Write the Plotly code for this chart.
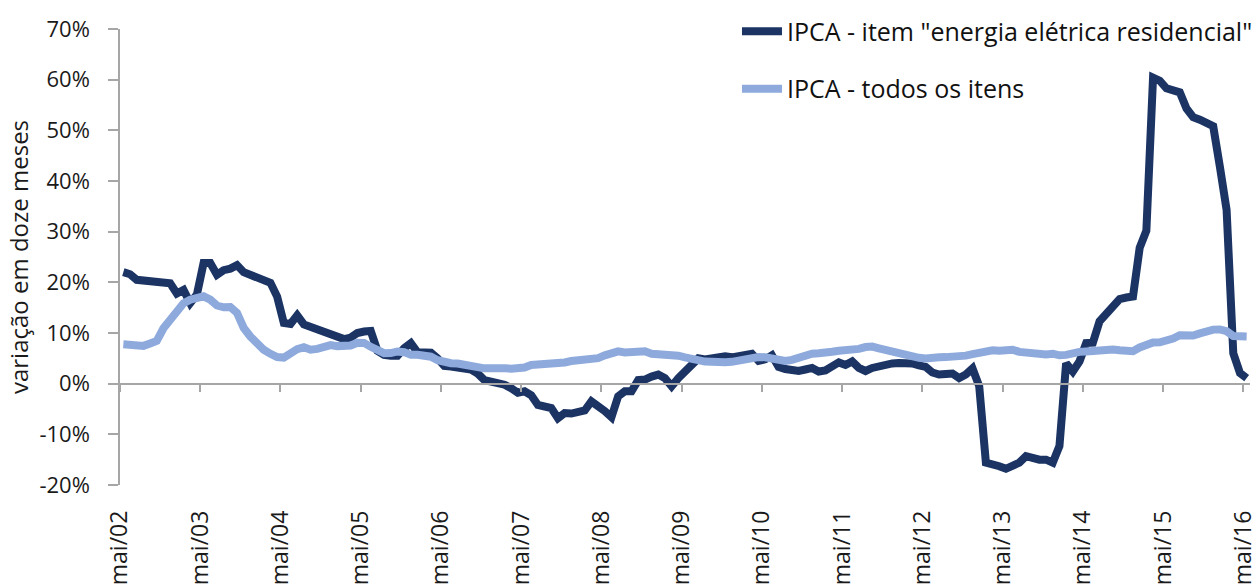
import plotly.graph_objects as go

# Monthly data, mai/2002 .. mai/2016 (169 months), 12-month change in %
energia = [
    22.0, 21.6, 20.5, 20.3, 20.2, 20.2, 20.1, 19.8,
    17.8, 18.5, 15.9, 17.6, 23.8, 23.8, 21.5, 22.4, 22.7, 23.4, 22.0, 21.4,
    20.9, 20.2, 19.9, 17.2, 12.0, 11.8, 13.5, 11.7, 11.2, 10.7, 10.0, 9.4,
    8.9, 8.8, 9.1, 10.0, 10.3, 10.4, 6.5, 5.7, 5.5, 5.5, 7.0, 8.0,
    6.2, 6.0, 6.1, 5.0, 3.5, 3.4, 3.2, 3.0, 2.8, 2.0, 0.7, 0.4,
    0.2, -0.2, -0.9, -1.8, -1.5, -2.3, -4.2, -4.6, -4.8, -6.8, -5.8, -5.9,
    -5.6, -5.3, -3.5, -4.3, -5.4, -6.6, -2.5, -1.5, -1.5, 0.7, 0.8, 1.4,
    1.8, 1.1, -0.5, 1.1, 2.4, 3.2, 5.0, 4.8, 5.1, 5.2, 5.4, 5.2,
    5.5, 5.7, 5.9, 4.5, 4.8, 5.6, 3.3, 2.9, 2.8, 2.5, 2.8, 3.1,
    2.4, 2.6, 3.4, 4.2, 3.7, 4.4, 3.1, 2.5, 3.1, 3.5, 3.8, 4.0,
    4.1, 4.1, 4.0, 3.6, 3.3, 2.2, 1.8, 1.9, 2.0, 1.1, 1.8, 3.0,
    -0.5, -15.6, -15.8, -16.3, -16.8, -16.2, -15.6, -14.3, -14.7, -15.0, -15.0, -15.6,
    -12.3, 4.0, 2.4, 4.4, 8.0, 8.1, 12.3, 13.7, 14.8, 16.7, 17.0, 17.2,
    26.8, 30.2, 60.4, 59.8, 58.3, 58.0, 57.5, 54.3, 52.6, 52.1, 51.4, 50.8,
    42.8, 34.3, 6.0, 2.1, 1.1,
]

ipca = [
    7.77, 7.66, 7.51, 7.46, 7.93, 8.45, 10.93, 12.53,
    14.47, 15.85, 16.57, 16.77, 17.24, 16.57, 15.43, 15.07, 15.14, 13.98, 11.02, 9.30,
    7.71, 6.69, 5.89, 5.26, 5.15, 6.06, 6.81, 7.18, 6.71, 6.86, 7.24, 7.60,
    7.41, 7.39, 7.54, 8.07, 8.05, 7.27, 6.57, 6.02, 6.04, 6.36, 6.22, 5.69,
    5.70, 5.51, 5.32, 4.63, 4.23, 4.03, 3.97, 3.84, 3.70, 3.26, 3.02, 3.14,
    2.99, 3.02, 2.96, 3.00, 3.18, 3.69, 3.74, 4.18, 4.15, 4.12, 4.19, 4.46,
    4.56, 4.61, 4.73, 5.04, 5.58, 6.06, 6.37, 6.17, 6.25, 6.41, 6.39, 5.90,
    5.84, 5.90, 5.61, 5.53, 5.20, 4.80, 4.50, 4.36, 4.34, 4.17, 4.22, 4.31,
    4.59, 4.83, 5.17, 5.26, 5.22, 4.84, 4.60, 4.49, 4.70, 5.20, 5.63, 5.91,
    5.99, 6.01, 6.30, 6.51, 6.55, 6.71, 6.87, 7.23, 7.31, 6.97, 6.64, 6.50,
    6.22, 5.85, 5.24, 5.10, 4.99, 4.92, 5.20, 5.24, 5.28, 5.45, 5.53, 5.84,
    6.15, 6.31, 6.59, 6.49, 6.50, 6.70, 6.27, 6.09, 5.86, 5.84, 5.77, 5.91,
    5.59, 5.68, 6.15, 6.28, 6.37, 6.52, 6.50, 6.51, 6.75, 6.59, 6.56, 6.41,
    7.14, 7.70, 8.13, 8.17, 8.47, 8.89, 9.56, 9.53, 9.49, 9.93, 10.48, 10.67,
    10.71, 10.36, 9.39, 9.28, 9.32,
]

tick_labels = ["mai/02", "mai/03", "mai/04", "mai/05", "mai/06", "mai/07", "mai/08",
               "mai/09", "mai/10", "mai/11", "mai/12", "mai/13", "mai/14", "mai/15", "mai/16"]

y_ticks = [-20, -10, 0, 10, 20, 30, 40, 50, 60, 70]
y_tick_labels = ["-20%", "-10%", "0%", "10%", "20%", "30%", "40%", "50%", "60%", "70%"]

series_names = ['IPCA - item "energia elétrica residencial"', "IPCA - todos os itens"]

months = list(range(len(energia)))
tick_pos = [12 * k - 0.5 for k in range(len(tick_labels))]
x_range = [-0.5, len(energia) - 0.5]
y_range = [y_ticks[0], y_ticks[-1]]

DARK = "#1b3464"
LIGHT = "#8eaadc"
AXIS = "#a6a6a6"
FONT = "Open Sans"

fig = go.Figure()
fig.add_trace(go.Scatter(x=months, y=energia, mode="lines", name=series_names[0],
                         legendgroup="a",
                         line=dict(color=DARK, width=8), xaxis="x", yaxis="y"))
fig.add_trace(go.Scatter(x=months, y=ipca, mode="lines", name=series_names[1],
                         legendgroup="b",
                         line=dict(color=LIGHT, width=8), xaxis="x", yaxis="y"))
# helper trace so the zero-crossing axis is drawn
fig.add_trace(go.Scatter(x=[x_range[0]], y=[None], mode="lines", showlegend=False,
                         hoverinfo="skip", xaxis="x2", yaxis="y"))

zero_pos = (0 - y_range[0]) / (y_range[1] - y_range[0])

fig.update_layout(
    width=1260, height=586,
    margin=dict(l=120, r=10, t=29, b=101, autoexpand=False),
    paper_bgcolor="white", plot_bgcolor="white",
    font=dict(family=FONT, size=22, color="#1a1a1a"),
    showlegend=True,
    legend=dict(x=0.546, y=1.045, xanchor="left", yanchor="top",
                bgcolor="rgba(0,0,0,0)", font=dict(family=FONT, size=25, color="#111"),
                traceorder="grouped", tracegroupgap=22, itemwidth=40),
    xaxis=dict(range=x_range, tickvals=tick_pos, ticktext=tick_labels, tickangle=-90,
               ticks="", showline=False, showgrid=False, zeroline=False,
               ticklabelstandoff=20, tickfont=dict(size=23), automargin=False),
    xaxis2=dict(range=x_range, tickvals=tick_pos, overlaying="x", anchor="free",
                position=zero_pos, side="bottom", ticks="outside", ticklen=8,
                tickwidth=1.5, tickcolor=AXIS, showline=True, linecolor=AXIS,
                linewidth=1.5, showticklabels=False, showgrid=False, zeroline=False),
    yaxis=dict(range=y_range, tickvals=y_ticks, ticktext=y_tick_labels,
               ticks="outside", ticklen=10,
               tickwidth=1.5, tickcolor=AXIS, showline=True, linecolor=AXIS, linewidth=1.5,
               showgrid=False, zeroline=False, ticklabelstandoff=14, automargin=False,
               tickfont=dict(size=22),
               title=dict(text="variação em doze meses", standoff=4,
                          font=dict(size=24))),
)

fig.write_html("out.html", config={"displayModeBar": False},
               post_script="document.body.style.margin='0px';")
